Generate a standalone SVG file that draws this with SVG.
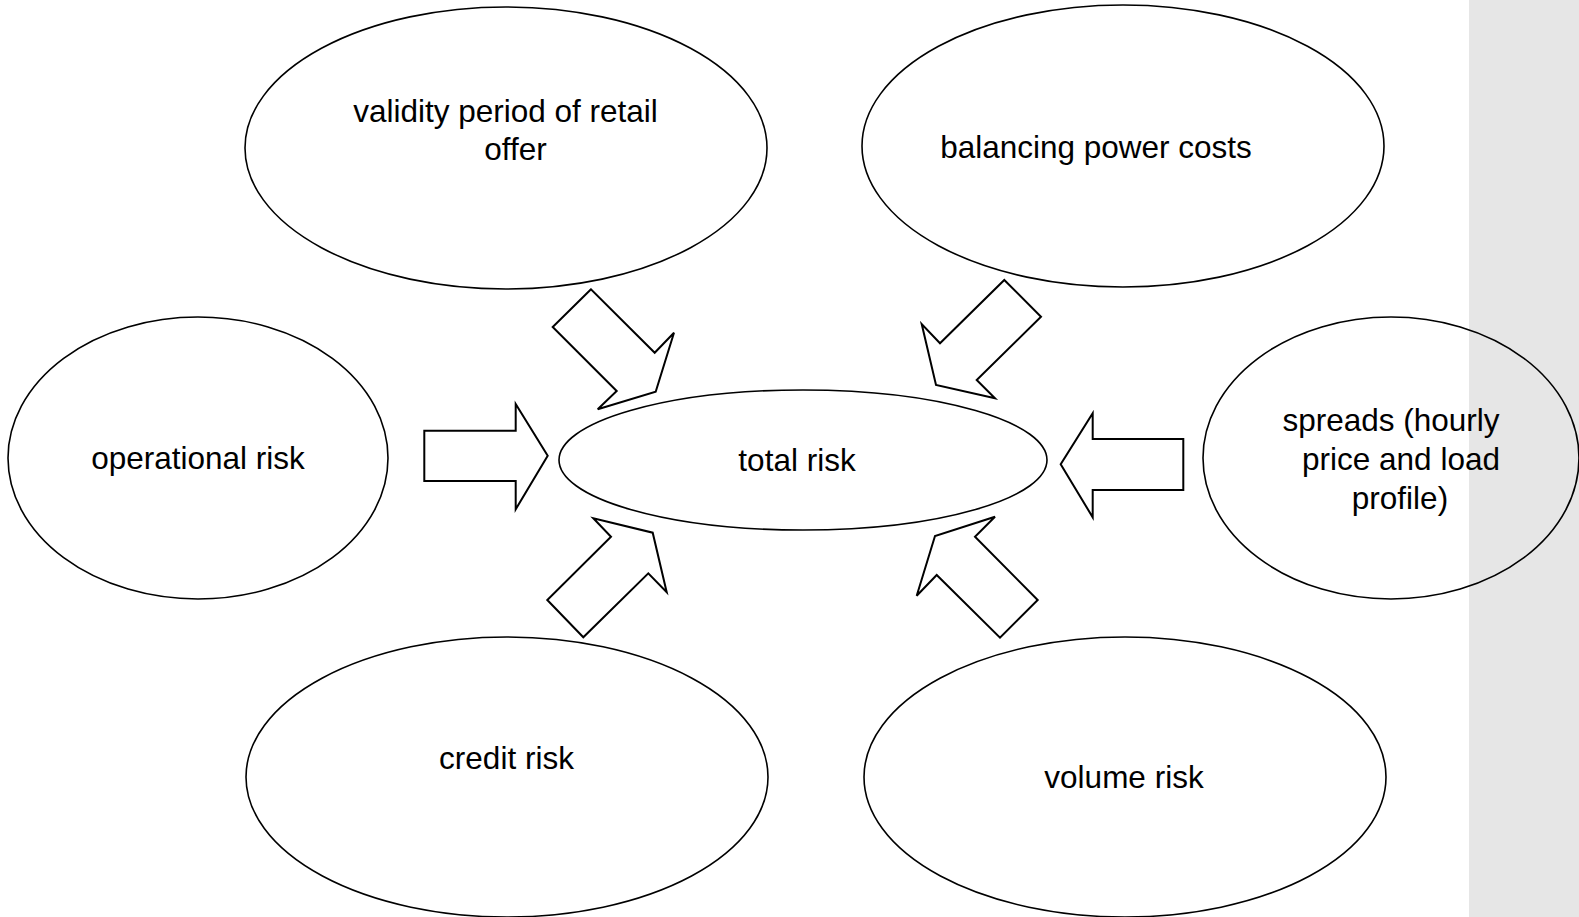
<svg xmlns="http://www.w3.org/2000/svg" width="1579" height="917" viewBox="0 0 1579 917">
<style>
.n{fill:none;stroke:#000;stroke-width:1.6}
.a{fill:#fff;stroke:#000;stroke-width:2;stroke-linejoin:miter}
text{font-family:"Liberation Sans",Arial,sans-serif;font-size:31.5px;fill:#000;text-anchor:middle}
</style>
<rect x="0" y="0" width="1579" height="917" fill="#fff"/>
<rect x="1469" y="0" width="110" height="917" fill="#e6e6e6"/>
<g id="total-risk"><ellipse class="n" cx="803" cy="460" rx="244" ry="70"/><text x="797" y="471">total risk</text></g>
<g id="validity"><ellipse class="n" cx="506" cy="148" rx="261" ry="141"/><text x="505.5" y="122">validity period of retail</text><text x="515.5" y="160">offer</text></g>
<g id="balancing"><ellipse class="n" cx="1123" cy="146" rx="261" ry="141"/><text x="1096" y="158">balancing power costs</text></g>
<g id="operational"><ellipse class="n" cx="198" cy="458" rx="190" ry="141"/><text x="198" y="469">operational risk</text></g>
<g id="spreads"><ellipse class="n" cx="1391" cy="458" rx="188" ry="141"/><text x="1391" y="431">spreads (hourly</text><text x="1401" y="470">price and load</text><text x="1400" y="509">profile)</text></g>
<g id="credit"><ellipse class="n" cx="507" cy="777" rx="261" ry="140"/><text x="506.5" y="769">credit risk</text></g>
<g id="volume"><ellipse class="n" cx="1125" cy="777" rx="261" ry="140"/><text x="1124" y="788">volume risk</text></g>
<g id="connectors">
<polygon class="a" points="591,289.3 552.7,327 616.7,391 597.7,409.3 655.7,391.7 674,332.7 654.7,352.7"/>
<polygon class="a" points="1004.3,280 1041,316.7 976.7,380 995,398.3 936,385 921.7,324 940,343.3"/>
<polygon class="a" points="424.3,430.7 515.7,430.7 515.7,404 547.7,455.7 515.7,509.3 515.7,481 424.3,481"/>
<polygon class="a" points="1183.3,439 1092.7,439 1092.7,413.3 1060.7,464.3 1092.7,517.3 1092.7,490 1183.3,490"/>
<polygon class="a" points="547.3,600 583.3,637.3 648.3,573.3 666.7,592.3 652.7,532.7 593.3,518.3 611,536.7"/>
<polygon class="a" points="995,516.7 975,536.7 1037.7,600 1000,637.7 936.7,575 916.7,595.7 935,536"/>
</g>
</svg>
